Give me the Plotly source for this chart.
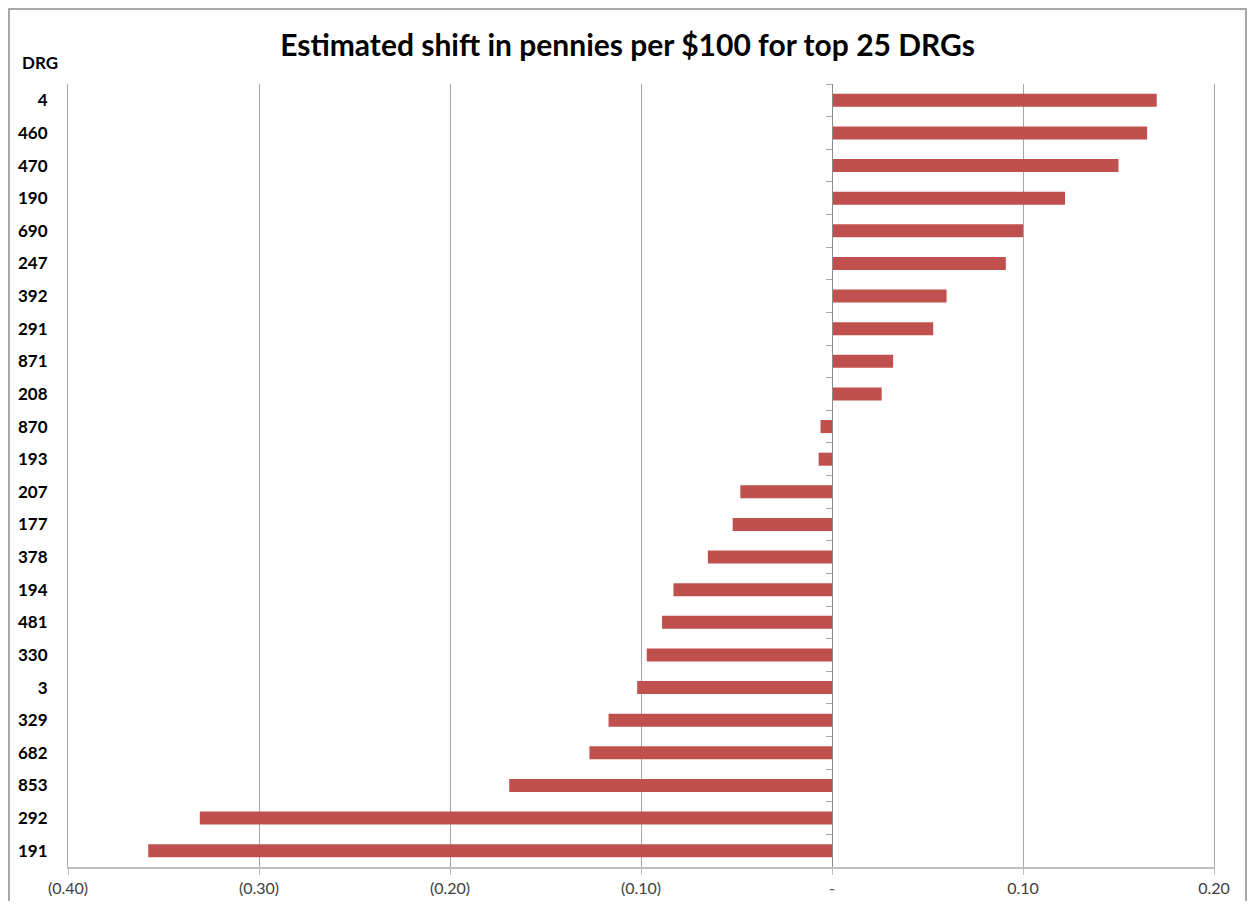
import plotly.graph_objects as go

drg = ["4", "460", "470", "190", "690", "247", "392", "291", "871", "208", "870", "193",
       "207", "177", "378", "194", "481", "330", "3", "329", "682", "853", "292", "191"]
shift = [0.170, 0.165, 0.150, 0.122, 0.100, 0.091, 0.060, 0.053, 0.032, 0.026, -0.006, -0.007,
         -0.048, -0.052, -0.065, -0.083, -0.089, -0.097, -0.102, -0.117, -0.127, -0.169, -0.331, -0.358]
x_tickvals = [-0.40, -0.30, -0.20, -0.10, 0.0, 0.10, 0.20]
x_ticktext = ["(0.40)", "(0.30)", "(0.20)", "(0.10)", "-", "0.10", "0.20"]
x_range = [-0.40, 0.20]
title = "Estimated shift in pennies per $100 for top 25 DRGs"

FONT = "Lato, 'Open Sans', sans-serif"
OFF = 8  # browser body margin
W, H = 1255 - 2 * OFF, 909 - 2 * OFF
ml, mt = 68 - OFF, 84 - OFF
pw, ph = 1146, 783
mr, mb = W - ml - pw, H - mt - ph

fig = go.Figure()
fig.add_trace(go.Bar(x=shift, y=drg, orientation="h", marker=dict(color="#C0504D", line=dict(width=0)),
                     yaxis="y2", hoverinfo="x+y"))
fig.add_trace(go.Scatter(x=[None], y=[None], yaxis="y", showlegend=False, hoverinfo="skip"))

zero_pos = (0 - x_range[0]) / (x_range[1] - x_range[0])

def px_x(x):
    return (x - OFF - ml) / pw

def px_y(y):
    return 1 - (y - OFF - mt) / ph

fig.update_layout(
    width=W, height=H,
    margin=dict(l=ml, r=mr, t=mt, b=mb),
    paper_bgcolor="white", plot_bgcolor="white",
    showlegend=False,
    bargap=0.6,
    title=dict(text="<b>" + title + "</b>", x=0.5, xanchor="center", y=1 - (45 - OFF) / H, yanchor="middle",
               font=dict(family=FONT, size=30, color="black")),
    xaxis=dict(range=x_range, tickvals=x_tickvals, ticktext=x_ticktext, showgrid=True, automargin=False,
               gridcolor="#a6a6a6", gridwidth=1, zeroline=False, showline=True, linecolor="#bfbfbf",
               linewidth=2, ticks="outside", ticklen=6, tickcolor="#bfbfbf",
               tickfont=dict(family=FONT, size=16, color="#404040"), fixedrange=True),
    yaxis=dict(type="category", categoryorder="array", categoryarray=drg, automargin=False,
               range=[len(drg) - 0.5, -0.5],
               showgrid=False, zeroline=False, showline=True, mirror=True, linecolor="#a6a6a6",
               linewidth=1, ticks="",
               tickfont=dict(family=FONT, size=17, color="black", weight="bold"), ticklabelstandoff=16),
    yaxis2=dict(type="category", categoryorder="array", categoryarray=drg, overlaying="y",
                range=[len(drg) - 0.5, -0.5], anchor="free", position=zero_pos, side="left",
                automargin=False,
                showgrid=False, zeroline=False, showline=True, linecolor="#8c8c8c", linewidth=1,
                ticks="outside", tickson="boundaries", ticklen=6, tickcolor="#a6a6a6",
                showticklabels=False),
    annotations=[dict(text="<b>DRG</b>", xref="paper", yref="paper", x=px_x(40),
                      y=px_y(62), xanchor="center", yanchor="middle", showarrow=False,
                      font=dict(family=FONT, size=17, color="black"))],
    shapes=[dict(type="rect", xref="paper", yref="paper", x0=px_x(9), x1=px_x(1246),
                 y0=px_y(915), y1=px_y(9),
                 line=dict(color="#8c8c8c", width=1.5), layer="below")],
)

fig.write_html("out.html")
